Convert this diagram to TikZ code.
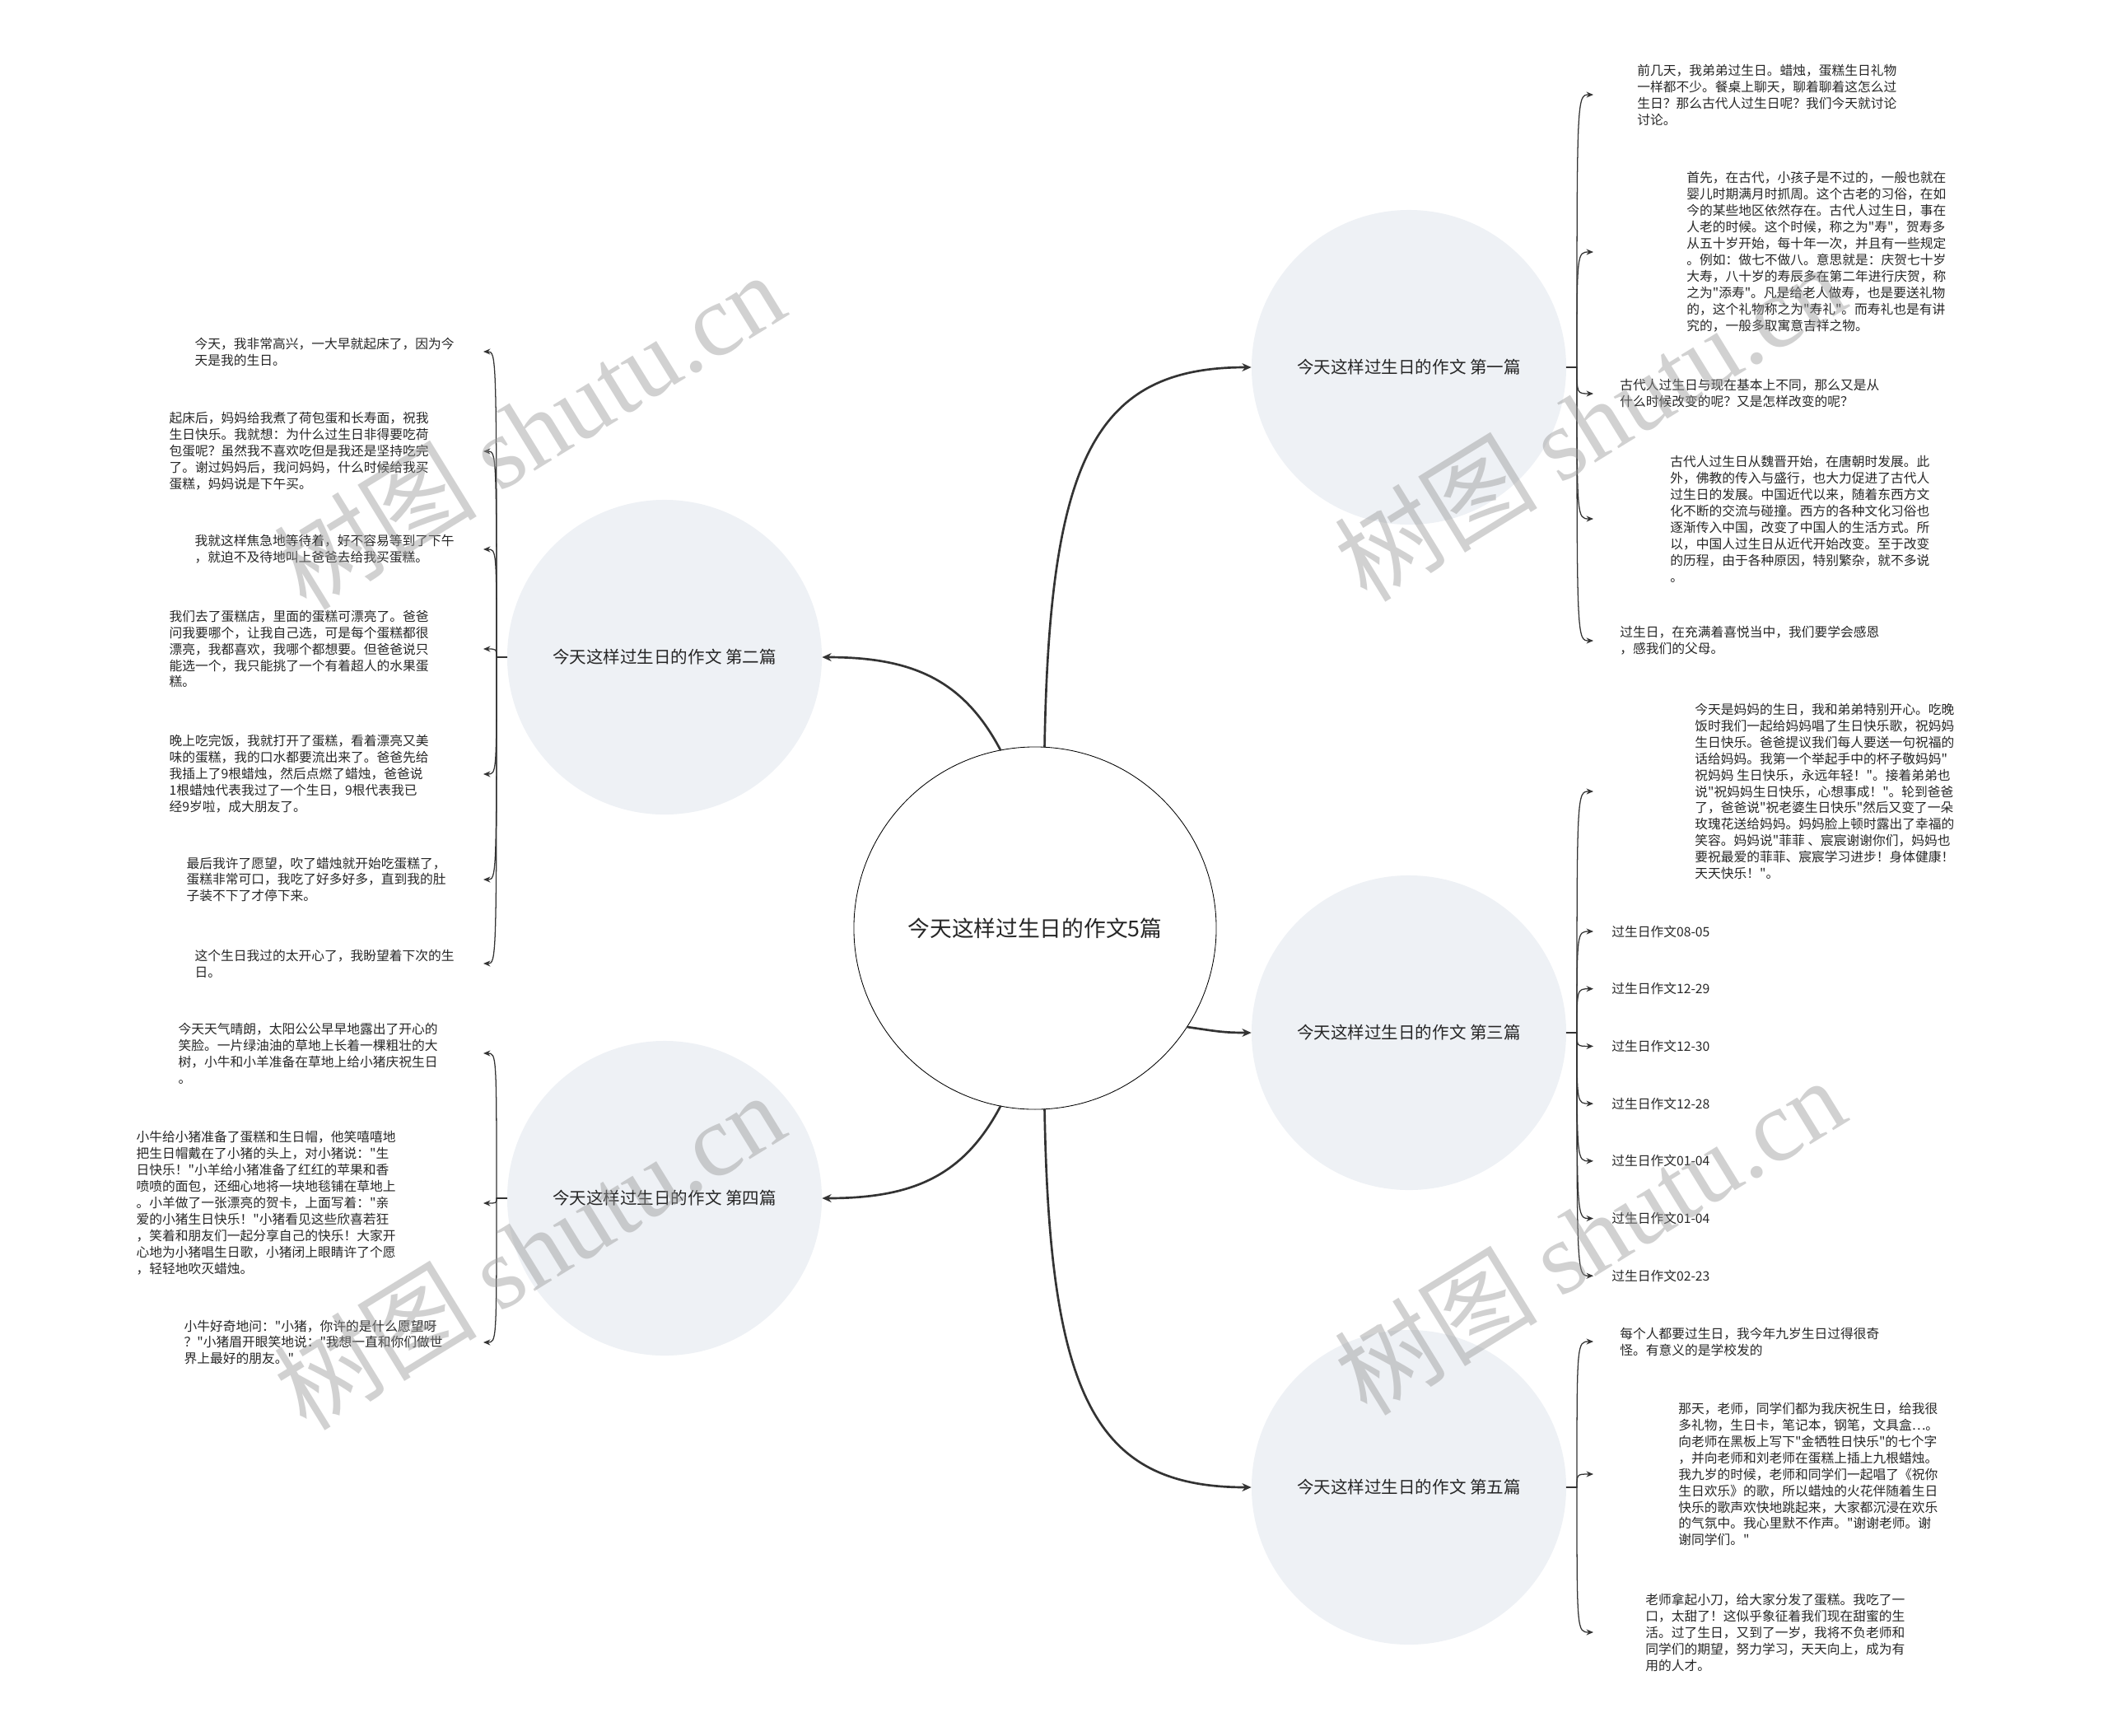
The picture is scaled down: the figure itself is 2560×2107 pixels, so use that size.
\documentclass[tikz,border=0pt]{standalone}
\usepackage{fontspec}
\newfontfamily\cjk{Noto Sans CJK SC}
\newfontfamily\wmfont{Liberation Serif}
\usetikzlibrary{arrows.meta}
\definecolor{topicfill}{HTML}{EEF1F5}
\definecolor{linegray}{HTML}{333333}
\begin{document}
\begin{tikzpicture}[x=0.025cm, y=-0.025cm, line join=round, line cap=round, text=black!85,
	root/.style={circle, draw=black, line width=0.6pt, fill=white, minimum size=11cm, inner sep=0pt, font=\cjk\fontsize{19pt}{23pt}\selectfont},
	topic/.style={circle, fill=topicfill, minimum size=9.55cm, inner sep=0pt, font=\cjk\fontsize{14.6pt}{18pt}\selectfont},
	leafr/.style={anchor=west, align=left, inner ysep=0pt, inner xsep=#1*0.025cm, font=\cjk\fontsize{11.2pt}{14.2pt}\selectfont},
	leafl/.style={anchor=east, align=left, inner ysep=0pt, inner xsep=#1*0.025cm, font=\cjk\fontsize{11.2pt}{14.2pt}\selectfont},
	branch/.style={draw=linegray, line width=1.9pt, -{Stealth[length=8pt,width=7pt]}},
	twig/.style={draw=linegray, line width=0.9pt, -{Stealth[length=6pt,width=5pt]}},
	stub/.style={draw=linegray, line width=0.9pt},
	wmark/.style={text=black!40, text opacity=0.45, rotate=31.6, font=\cjk\fontsize{88pt}{100pt}\selectfont}]
	\useasboundingbox (0,0) rectangle (2560,2107);
	% centre and topics
	\node[root] (root) at (1257,1127) {今天这样过生日的作文5篇};
	\node[topic] (t1) at (1711,446) {今天这样过生日的作文 第一篇};
	\node[topic] (t2) at (807,798) {今天这样过生日的作文 第二篇};
	\node[topic] (t3) at (1711,1254) {今天这样过生日的作文 第三篇};
	\node[topic] (t4) at (807,1455) {今天这样过生日的作文 第四篇};
	\node[topic] (t5) at (1711,1806) {今天这样过生日的作文 第五篇};
	\draw[branch] (root.87) .. controls +(6,-350) and +(-190,0) .. (t1.west);
	\draw[branch] (root.101) .. controls +(-45,-85) and +(110,0) .. (t2.east);
	\draw[branch] (root.-33) .. controls +(35,5) and +(-35,0) .. (t3.west);
	\draw[branch] (root.-101) .. controls +(-45,85) and +(110,0) .. (t4.east);
	\draw[branch] (root.-87) .. controls +(6,350) and +(-190,0) .. (t5.west);
	\coordinate (j1) at (1915,446);
	\coordinate (j3) at (1915,1254);
	\coordinate (j5) at (1915,1806);
	\coordinate (j2) at (603,798);
	\coordinate (j4) at (603,1455);
	\draw[stub] (t1.east) -- (j1);
	\draw[stub] (t3.east) -- (j3);
	\draw[stub] (t5.east) -- (j5);
	\draw[stub] (t2.west) -- (j2);
	\draw[stub] (t4.west) -- (j4);
	% first
	\node[leafr=53] (a1) at (1935,115) {前几天，我弟弟过生日。蜡烛，蛋糕生日礼物\\一样都不少。餐桌上聊天，聊着聊着这怎么过\\生日？那么古代人过生日呢？我们今天就讨论\\讨论。};
	\node[leafr=113] (a2) at (1935,306) {首先，在古代，小孩子是不过的，一般也就在\\婴儿时期满月时抓周。这个古老的习俗，在如\\今的某些地区依然存在。古代人过生日，事在\\人老的时候。这个时候，称之为"寿"，贺寿多\\从五十岁开始，每十年一次，并且有一些规定\\。例如：做七不做八。意思就是：庆贺七十岁\\大寿，八十岁的寿辰多在第二年进行庆贺，称\\之为"添寿"。凡是给老人做寿，也是要送礼物\\的，这个礼物称之为"寿礼"。而寿礼也是有讲\\究的，一般多取寓意吉祥之物。};
	\node[leafr=32] (a3) at (1935,478) {古代人过生日与现在基本上不同，那么又是从\\什么时候改变的呢？又是怎样改变的呢？};
	\node[leafr=93] (a4) at (1935,630) {古代人过生日从魏晋开始，在唐朝时发展。此\\外，佛教的传入与盛行，也大力促进了古代人\\过生日的发展。中国近代以来，随着东西方文\\化不断的交流与碰撞。西方的各种文化习俗也\\逐渐传入中国，改变了中国人的生活方式。所\\以，中国人过生日从近代开始改变。至于改变\\的历程，由于各种原因，特别繁杂，就不多说\\。};
	\node[leafr=32] (a5) at (1935,778) {过生日，在充满着喜悦当中，我们要学会感恩\\，感我们的父母。};
	\foreach \n in {a1,a2,a3,a4,a5}
		\draw[twig] (j1) .. controls (j1 |- \n.west) .. (\n.west);
	% second
	\node[leafl=35] (b1) at (587,427) {今天，我非常高兴，一大早就起床了，因为今\\天是我的生日。};
	\node[leafl=66] (b2) at (587,548) {起床后，妈妈给我煮了荷包蛋和长寿面，祝我\\生日快乐。我就想：为什么过生日非得要吃荷\\包蛋呢？虽然我不喜欢吃但是我还是坚持吃完\\了。谢过妈妈后，我问妈妈，什么时候给我买\\蛋糕，妈妈说是下午买。};
	\node[leafl=35] (b3) at (587,667) {我就这样焦急地等待着，好不容易等到了下午\\，就迫不及待地叫上爸爸去给我买蛋糕。};
	\node[leafl=66] (b4) at (587,788) {我们去了蛋糕店，里面的蛋糕可漂亮了。爸爸\\问我要哪个，让我自己选，可是每个蛋糕都很\\漂亮，我都喜欢，我哪个都想要。但爸爸说只\\能选一个，我只能挑了一个有着超人的水果蛋\\糕。};
	\node[leafl=66] (b5) at (587,940) {晚上吃完饭，我就打开了蛋糕，看着漂亮又美\\味的蛋糕，我的口水都要流出来了。爸爸先给\\我插上了9根蜡烛，然后点燃了蜡烛，爸爸说\\1根蜡烛代表我过了一个生日，9根代表我已\\经9岁啦，成大朋友了。};
	\node[leafl=45] (b6) at (587,1068) {最后我许了愿望，吹了蜡烛就开始吃蛋糕了，\\蛋糕非常可口，我吃了好多好多，直到我的肚\\子装不下了才停下来。};
	\node[leafl=35] (b7) at (587,1170) {这个生日我过的太开心了，我盼望着下次的生\\日。};
	\foreach \n in {b1,b2,b3,b4,b5,b6,b7}
		\draw[twig] (j2) .. controls (j2 |- \n.east) .. (\n.east);
	% third
	\node[leafr=123] (c1) at (1935,961) {今天是妈妈的生日，我和弟弟特别开心。吃晚\\饭时我们一起给妈妈唱了生日快乐歌，祝妈妈\\生日快乐。爸爸提议我们每人要送一句祝福的\\话给妈妈。我第一个举起手中的杯子敬妈妈"\\祝妈妈 生日快乐，永远年轻！"。接着弟弟也\\说"祝妈妈生日快乐，心想事成！"。轮到爸爸\\了，爸爸说"祝老婆生日快乐"然后又变了一朵\\玫瑰花送给妈妈。妈妈脸上顿时露出了幸福的\\笑容。妈妈说"菲菲 、宸宸谢谢你们，妈妈也\\要祝最爱的菲菲、宸宸学习进步！身体健康！\\天天快乐！"。};
	\draw[twig] (j3) .. controls (j3 |- c1.west) .. (c1.west);
	\foreach \d [count=\i] in {08-05,12-29,12-30,12-28,01-04,01-04,02-23} {
		\node[leafr=22] (s\i) at (1935,{1131+69.7*(\i-1)}) {过生日作文\d};
		\draw[twig] (j3) .. controls (j3 |- s\i.west) .. (s\i.west);
	}
	% fourth
	\node[leafl=55] (d1) at (587,1279) {今天天气晴朗，太阳公公早早地露出了开心的\\笑脸。一片绿油油的草地上长着一棵粗壮的大\\树，小牛和小羊准备在草地上给小猪庆祝生日\\。};
	\node[leafl=106] (d2) at (587,1461) {小牛给小猪准备了蛋糕和生日帽，他笑嘻嘻地\\把生日帽戴在了小猪的头上，对小猪说："生\\日快乐！"小羊给小猪准备了红红的苹果和香\\喷喷的面包，还细心地将一块地毯铺在草地上\\。小羊做了一张漂亮的贺卡，上面写着："亲\\爱的小猪生日快乐！"小猪看见这些欣喜若狂\\，笑着和朋友们一起分享自己的快乐！大家开\\心地为小猪唱生日歌，小猪闭上眼睛许了个愿\\，轻轻地吹灭蜡烛。};
	\node[leafl=49] (d3) at (587,1630) {小牛好奇地问："小猪，你许的是什么愿望呀\\？"小猪眉开眼笑地说："我想一直和你们做世\\界上最好的朋友。"};
	\foreach \n in {d1,d2,d3}
		\draw[twig] (j4) .. controls (j4 |- \n.east) .. (\n.east);
	% fifth
	\node[leafr=32] (e1) at (1935,1629) {每个人都要过生日，我今年九岁生日过得很奇\\怪。有意义的是学校发的};
	\node[leafr=103] (e2) at (1935,1790) {那天，老师，同学们都为我庆祝生日，给我很\\多礼物，生日卡，笔记本，钢笔，文具盒…。\\向老师在黑板上写下"金牺牲日快乐"的七个字\\，并向老师和刘老师在蛋糕上插上九根蜡烛。\\我九岁的时候，老师和同学们一起唱了《祝你\\生日欢乐》的歌，所以蜡烛的火花伴随着生日\\快乐的歌声欢快地跳起来，大家都沉浸在欢乐\\的气氛中。我心里默不作声。"谢谢老师。谢\\谢同学们。"};
	\node[leafr=63] (e3) at (1935,1982) {老师拿起小刀，给大家分发了蛋糕。我吃了一\\口，太甜了！这似乎象征着我们现在甜蜜的生\\活。过了生日，又到了一岁，我将不负老师和\\同学们的期望，努力学习，天天向上，成为有\\用的人才。};
	\foreach \n in {e1,e2,e3}
		\draw[twig] (j5) .. controls (j5 |- \n.west) .. (\n.west);
	% watermarks
	\node[wmark] (w1) at (642,522) {树图 {\wmfont shutu.cn}};
	\node[wmark] (w2) at (1930,512) {树图 {\wmfont shutu.cn}};
	\node[wmark] (w3) at (642,1518) {树图 {\wmfont shutu.cn}};
	\node[wmark] (w4) at (1930,1500) {树图 {\wmfont shutu.cn}};
\end{tikzpicture}
\end{document}
